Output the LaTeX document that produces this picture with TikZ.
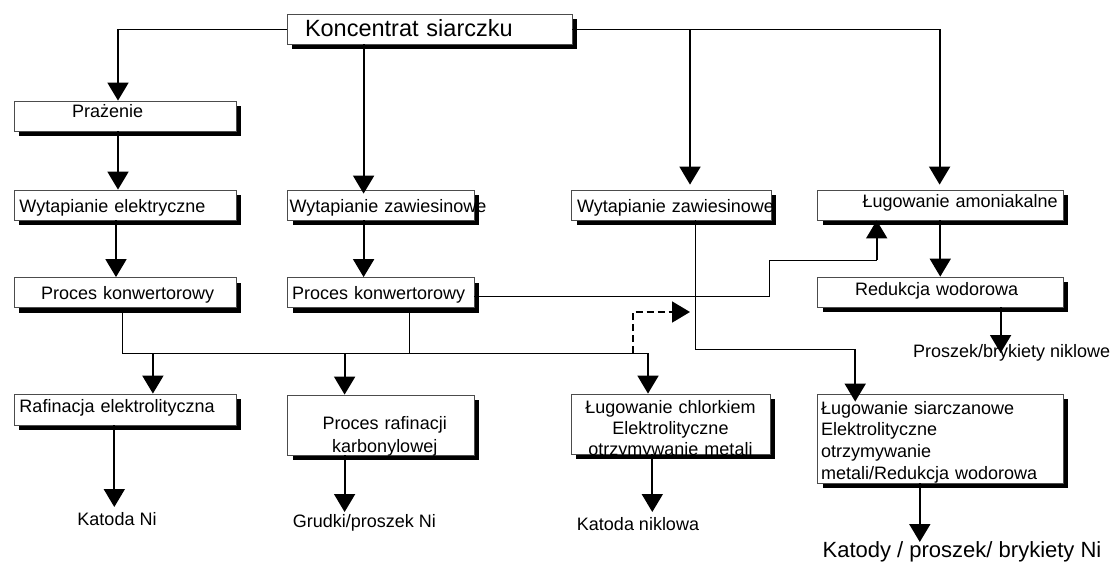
\documentclass[tikz,border=0pt]{standalone}
\usepackage{fontspec}
\setmainfont{Liberation Sans}
\usetikzlibrary{arrows.meta,shadows}

\tikzset{
    procbox/.style={draw=black!70, line width=0.8pt, fill=white, inner sep=0pt,
        minimum height=30pt, align=left, text height=17pt, text depth=3pt,
        font=\fontsize{18}{21}\selectfont,
        drop shadow={shadow xshift=5pt, shadow yshift=-5pt, fill=black, opacity=1}},
    product/.style={inner sep=0pt, font=\fontsize{18}{21}\selectfont},
    arr/.style={line width=1.8pt, -{Triangle[width=21pt,length=18pt]}},
    link/.style={line width=0.9pt},
    dashlink/.style={line width=1.8pt, dash pattern=on 7pt off 4pt, -{Triangle[width=21pt,length=18pt]}},
}

\begin{document}
\begin{tikzpicture}[x=1pt, y=-1pt]
    \useasboundingbox (0,0) rectangle (1113,563);

    % process boxes
    \node[procbox, text width=285pt, font=\fontsize{23.5}{27}\selectfont] (conc) at (429.5,29) {\hspace*{18pt}Koncentrat siarczku};

    \node[procbox, text width=222pt, text height=13pt, text depth=10.4pt] (roast) at (125,116) {\hspace*{58pt}Prażenie};
    \node[procbox, text width=222pt] (esmelt) at (125,205) {\hspace*{5.5pt}Wytapianie elektryczne};
    \node[procbox, text width=186.5pt] (fsmeltA) at (380.75,205) {\hspace*{2pt}\mbox{Wytapianie zawiesinowe}};
    \node[procbox, text width=199.5pt] (fsmeltB) at (671.25,205) {\hspace*{5.5pt}\mbox{Wytapianie zawiesinowe}};
    \node[procbox, text width=245.5pt, text depth=12.4pt] (ammleach) at (940.25,205) {\hspace*{45pt}\mbox{Ługowanie amoniakalne}};

    \node[procbox, text width=222pt] (convA) at (125,292.5) {\hspace*{27pt}Proces konwertorowy};
    \node[procbox, text width=186.5pt] (convB) at (380.75,292.5) {\hspace*{4.5pt}Proces konwertorowy};
    \node[procbox, text width=245.5pt, text depth=9.6pt] (h2red) at (940.25,292) {\hspace*{37.5pt}Redukcja wodorowa};

    \node[procbox, text width=222pt, minimum height=31pt, text depth=10.6pt] (elref) at (125,409.5) {\hspace*{5.5pt}Rafinacja elektrolityczna};
    \node[procbox, text width=186.5pt, minimum height=60pt, align=center, text height=30pt, text depth=22pt,
        font=\fontsize{18}{23}\selectfont] (carbonyl) at (380.75,425) {\hspace*{8pt}Proces rafinacji\\\hspace*{8pt}karbonylowej};
    \node[procbox, text width=199pt, minimum height=60pt, align=center, text height=13pt, text depth=35pt] (clleach) at (670.5,424)
        {Ługowanie chlorkiem\\Elektrolityczne\\otrzymywanie metali};
    \node[procbox, text width=238.5pt, inner xsep=3.5pt, minimum height=89pt, text height=13pt, text depth=62pt,
        font=\fontsize{18}{21.7}\selectfont] (sulfleach) at (940.25,438.5)
        {Ługowanie siarczanowe\\Elektrolityczne\\otrzymywanie\\metali/Redukcja wodorowa};

    % products
    \node[product, anchor=base] (katNi) at (117,525.5) {Katoda Ni};
    \node[product, anchor=base] (grudki) at (364.3,527) {Grudki/proszek Ni};
    \node[product, anchor=base] (katNik) at (638,530) {Katoda niklowa};
    \node[product, anchor=base, font=\fontsize{22}{26}\selectfont] (katody) at (962,557) {Katody / proszek/ brykiety Ni};
    \node[product, anchor=base] (nikpow) at (1011.7,357.3) {Proszek/brykiety niklowe};

    % feed lines from the concentrate
    \coordinate (tl) at (118,29);
    \coordinate (tc) at (363.6,29);
    \coordinate (tm) at (690,29);
    \coordinate (tr) at (939.6,29);
    \draw[link] (conc.west) -- (tl);
    \draw[link] (conc.east) -- (tr);
    \draw[arr] (tl) -- (tl |- roast.north);
    \draw[arr, shorten >=-4pt] (tc |- conc.south) -- (tc |- fsmeltA.north);
    \draw[arr, shorten >=5pt] (tm) -- (tm |- fsmeltB.north);
    \draw[arr, shorten >=5pt] (tr) -- (tr |- ammleach.north);

    \draw[arr] (tl |- roast.south) -- (tl |- esmelt.north);
    \draw[arr] ([xshift=-9pt]esmelt.south) -- ([xshift=-9pt]convA.north);
    \draw[arr] ([xshift=-17.15pt]fsmeltA.south) -- ([xshift=-17.15pt]convB.north);
    \draw[arr] (ammleach.south) -- (h2red.north);

    % collecting line under the converters
    \coordinate (busL) at (122.5,353);
    \coordinate (busB) at (409.6,353);
    \coordinate (busR) at (648,353);
    \coordinate (bA) at (152.9,353);
    \coordinate (bB) at (344.6,353);
    \coordinate (dsh) at (632.7,353);
    \coordinate (dEnd) at (690,312);
    \draw[link] (busL |- convA.south) -- (busL) -- (busR);
    \draw[link] (busB |- convB.south) -- (busB);
    \draw[arr] (bA) -- (bA |- elref.north);
    \draw[arr] (bB) -- (bB |- carbonyl.north);
    \draw[arr] (busR) -- (busR |- clleach.north);
    \draw[dashlink] (dsh) |- (dEnd);

    % side routes to the leaching steps
    \coordinate (k1) at (769.7,296);
    \coordinate (k2) at (876.7,260);
    \draw[link] (convB.east |- k1) -- (k1) |- (k2);
    \draw[arr] (k2) -- (k2 |- ammleach.south);

    \coordinate (s1) at (695.4,349);
    \coordinate (s2) at (855.2,349);
    \draw[link] (s1 |- fsmeltB.south) -- (s1) -- (s2);
    \draw[arr, shorten >=-8pt] (s2) -- (s2 |- sulfleach.north);

    % to the products
    \coordinate (pA) at (114.3,507);
    \coordinate (pB) at (344.6,512);
    \coordinate (pC) at (652.3,512);
    \coordinate (pD) at (919.8,542);
    \coordinate (pE) at (1000.6,353);
    \draw[arr] (pA |- elref.south) -- (pA);
    \draw[arr] (pB |- carbonyl.south) -- (pB);
    \draw[arr] (pC |- clleach.south) -- (pC);
    \draw[arr] (pD |- sulfleach.south) -- (pD);
    \draw[arr] (pE |- h2red.south) -- (pE);
\end{tikzpicture}
\end{document}
